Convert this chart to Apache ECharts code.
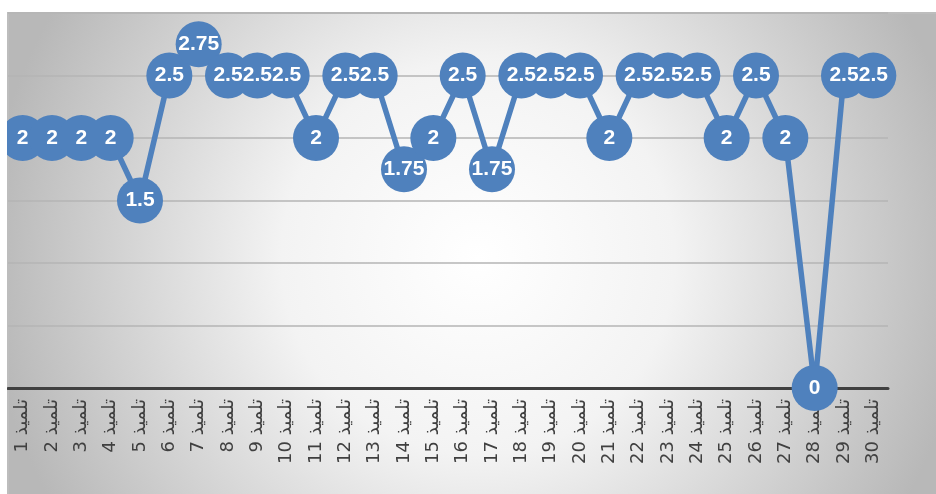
<!DOCTYPE html>
<html>
<head>
<meta charset="utf-8">
<script src="https://cdn.jsdelivr.net/npm/echarts@6/dist/echarts.min.js"></script>
<style>html,body{margin:0;padding:0;background:#fff;}#c{width:936px;height:494px;}</style>
</head>
<body>
<div id="c"></div>
<script>
const word = 'تلميذ';
const numbers = [1,2,3,4,5,6,7,8,9,10,11,12,13,14,15,16,17,18,19,20,21,22,23,24,25,26,27,28,29,30];
const categories = numbers.map(n => word + ' ' + n);
const values = [2,2,2,2,1.5,2.5,2.75,2.5,2.5,2.5,2,2.5,2.5,1.75,2,2.5,1.75,2.5,2.5,2.5,2,2.5,2.5,2.5,2,2.5,2,0,2.5,2.5];

const chart = echarts.init(document.getElementById('c'));
chart.setOption({
  animation: false,
  backgroundColor: '#ffffff',
  graphic: [
    {
      type: 'rect', z: -10, silent: true,
      shape: {x: 8, y: 13, width: 940, height: 490},
      style: {
        fill: {type: 'radial', x: 0.5, y: 0.5, r: 1.0,
          colorStops: [{offset: 0, color: '#ffffff'}, {offset: 0.4, color: '#f3f3f3'}, {offset: 1, color: '#b8b8b8'}]},
        stroke: '#bdbdbd', lineWidth: 2
      }
    },
    {
      type: 'rect', z: 100, silent: true,
      shape: {x: 0, y: 0, width: 7, height: 494},
      style: {fill: '#ffffff'}
    }
  ],
  grid: {left: 8, right: 48, top: 13, bottom: 106, containLabel: false},
  xAxis: {
    type: 'category',
    data: categories,
    boundaryGap: true,
    axisLine: {lineStyle: {color: '#404040', width: 3}},
    axisTick: {show: false},
    axisLabel: {
      rotate: 90,
      interval: 0,
      margin: 11,
      fontSize: 18,
      color: '#404040',
      fontFamily: 'DejaVu Sans',
      formatter: function (v) { const p = v.split(' '); return p[1] + ' ' + p[0]; }
    }
  },
  yAxis: {
    type: 'value',
    min: 0, max: 3, interval: 0.5,
    axisLabel: {show: false},
    axisLine: {show: false},
    axisTick: {show: false},
    splitLine: {lineStyle: {color: '#b4b4b4', width: 1.5}}
  },
  series: [{
    type: 'line',
    data: values,
    symbol: 'circle',
    symbolSize: 46,
    clip: false,
    lineStyle: {color: '#4f81bd', width: 5.5},
    itemStyle: {color: '#4f81bd', borderWidth: 0},
    label: {
      show: true,
      position: 'inside',
      color: '#ffffff',
      fontWeight: 'bold',
      fontSize: 21,
      fontFamily: 'Liberation Sans'
    }
  }]
});
</script>
</body>
</html>
